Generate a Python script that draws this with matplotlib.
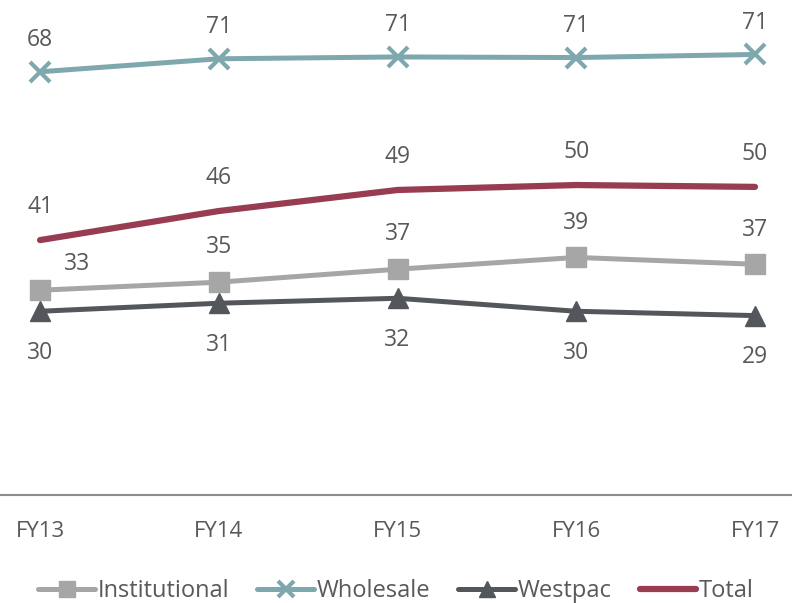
import matplotlib
matplotlib.use("Agg")
import matplotlib.pyplot as plt

categories = ["FY13", "FY14", "FY15", "FY16", "FY17"]
institutional = [33.1, 34.4, 36.5, 38.4, 37.3]
wholesale = [68.4, 70.5, 70.8, 70.7, 71.2]
westpac = [29.7, 31.0, 31.8, 29.7, 29.0]
total = [41.2, 45.9, 49.3, 50.1, 49.8]
inst_labels = ["33", "35", "37", "39", "37"]
whol_labels = ["68", "71", "71", "71", "71"]
west_labels = ["30", "31", "32", "30", "29"]
total_labels = ["41", "46", "49", "50", "50"]

plt.rcParams['font.family'] = ['Open Sans', 'DejaVu Sans']
txt = '#595959'

fig = plt.figure(figsize=(7.92, 6.03), dpi=100)
ax = fig.add_axes([0, 0.179, 1, 0.821])
x = list(range(len(categories)))

c_inst = '#A6A6A6'
c_whol = '#7EA8AD'
c_west = '#53565B'
c_tot = '#983C52'

ax.plot(x, institutional, color=c_inst, lw=3.6, marker='s', ms=15, label='Institutional', solid_capstyle='round')
ax.plot(x, wholesale, color=c_whol, lw=3.6, marker='x', ms=15, mew=3, label='Wholesale', solid_capstyle='round')
ax.plot(x, westpac, color=c_west, lw=3.6, marker='^', ms=15, label='Westpac', solid_capstyle='round')
ax.plot(x, total, color=c_tot, lw=4.5, label='Total', solid_capstyle='round')

fs = 16.5
for i in x:
    ax.annotate(whol_labels[i], (i, wholesale[i]), xytext=(0, 23), textcoords='offset points', ha='center', va='center', fontsize=fs, color=txt)
    ax.annotate(total_labels[i], (i, total[i]), xytext=(0, 24), textcoords='offset points', ha='center', va='center', fontsize=fs, color=txt)
    if i == 0:
        ax.annotate(inst_labels[i], (i, institutional[i]), xytext=(27, 19), textcoords='offset points', ha='center', va='center', fontsize=fs, color=txt)
    else:
        ax.annotate(inst_labels[i], (i, institutional[i]), xytext=(0, 25), textcoords='offset points', ha='center', va='center', fontsize=fs, color=txt)
    ax.annotate(west_labels[i], (i, westpac[i]), xytext=(0, -30), textcoords='offset points', ha='center', va='center', fontsize=fs, color=txt)

ax.set_xlim(-0.224, 4.207)
ax.set_ylim(0, 80)
for s in ['top', 'right', 'left']:
    ax.spines[s].set_visible(False)
ax.spines['bottom'].set_color('#8C8C8C')
ax.spines['bottom'].set_linewidth(1.5)
ax.set_yticks([])
ax.set_xticks(x)
ax.set_xticklabels(categories, fontsize=16, color=txt)
ax.tick_params(axis='x', length=0, pad=19)

leg = fig.legend(loc='center', bbox_to_anchor=(0.5, 0.02), ncol=4, frameon=False,
                 fontsize=17, handlelength=2.4, handletextpad=0.1, columnspacing=1.2,
                 markerscale=0.75)
for t in leg.get_texts():
    t.set_color(txt)

fig.savefig('out.png', dpi=100)
